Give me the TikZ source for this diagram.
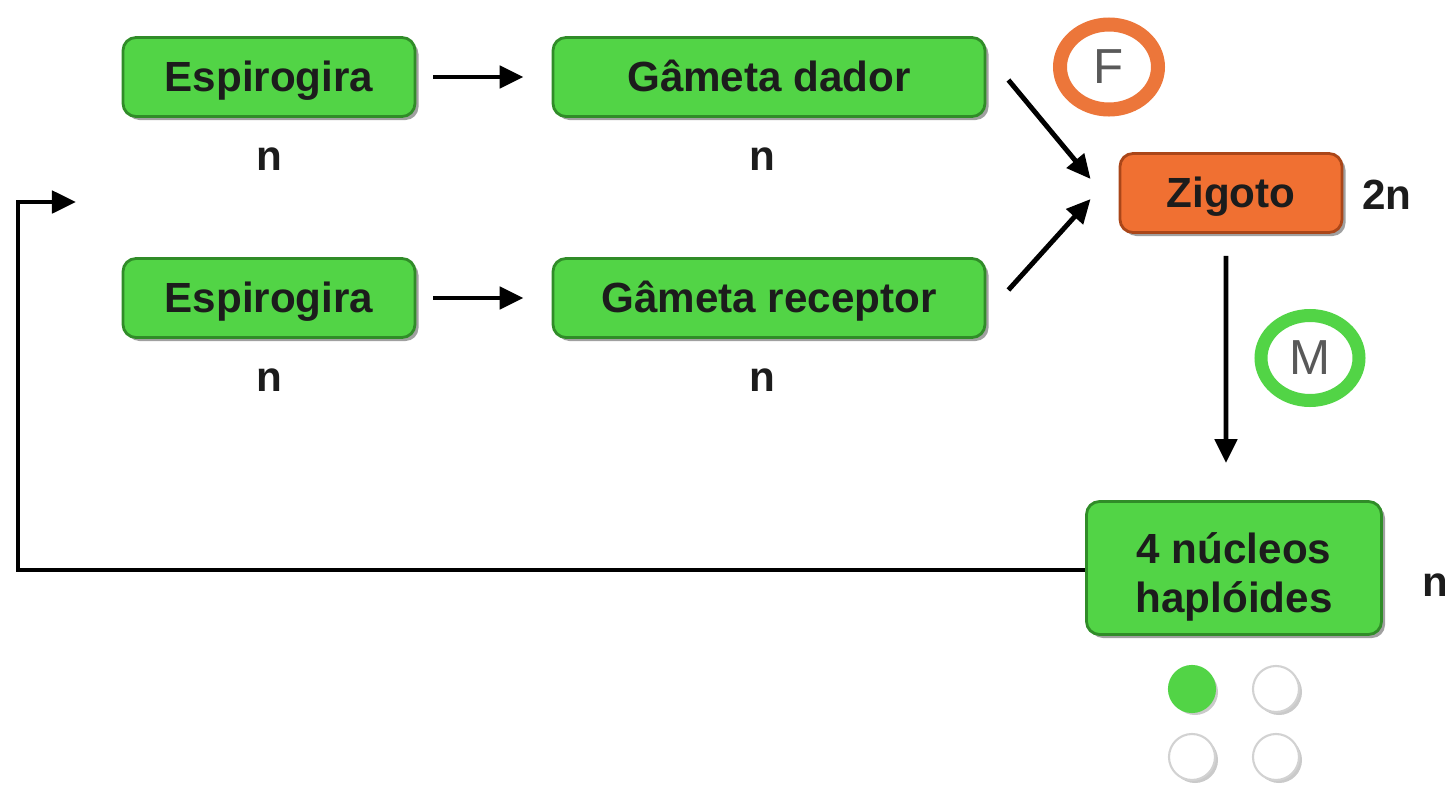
\documentclass[tikz,border=0pt]{standalone}
\usepackage{fontspec}
\setmainfont{Liberation Sans}
\usetikzlibrary{shapes, arrows.meta, shadows, calc, positioning}
\definecolor{algagreen}{RGB}{82,212,70}
\definecolor{algaedge}{RGB}{48,140,40}
\definecolor{zigorange}{RGB}{240,112,50}
\definecolor{zigedge}{RGB}{170,70,25}
\definecolor{ringorange}{RGB}{236,118,58}
\definecolor{inktext}{RGB}{28,28,28}
\tikzset{stagebox/.style={draw=algaedge, fill=algagreen, rounded corners=0.13cm, line width=0.8pt,
    text=inktext, font=\fontsize{12}{14}\selectfont\bfseries, align=center,
    drop shadow={shadow xshift=0.035cm, shadow yshift=-0.035cm, opacity=0.75}}}
\tikzset{oneline/.style={text height=1.0em, text depth=0.2em, minimum height=0.79cm}}
\tikzset{ploidy/.style={text=inktext, font=\fontsize{12}{14}\selectfont\bfseries}}
\tikzset{flow/.style={line width=1.4pt, -{Triangle[length=0.24cm, width=0.22cm]}}}
\tikzset{ring/.style={ellipse, line width=0.13cm, minimum width=0.98cm, minimum height=0.85cm, fill=white,
    text=black!65, font=\fontsize{14}{16}\selectfont}}
\tikzset{nucleus/.style={circle, minimum size=0.46cm, inner sep=0pt, draw=gray!35, line width=0.6pt,
    drop shadow={shadow xshift=0.03cm, shadow yshift=-0.03cm, fill=gray!70, opacity=0.6}}}

\begin{document}
\begin{tikzpicture}
\useasboundingbox (0,0) rectangle (14.45,7.84);

\node[stagebox, oneline, minimum width=2.92cm] (E1) at (2.69, 7.07) {Espirogira};
\node[stagebox, oneline, minimum width=4.32cm] (G1) at (7.69, 7.07) {Gâmeta dador};
\node[stagebox, oneline, minimum width=2.92cm] (E2) at (2.69, 4.86) {Espirogira};
\node[stagebox, oneline, minimum width=4.32cm] (G2) at (7.69, 4.86) {Gâmeta receptor};
\node[stagebox, oneline, fill=zigorange, draw=zigedge, minimum width=2.22cm] (Z) at (12.31, 5.91) {Zigoto};
\node[stagebox, minimum width=2.95cm, minimum height=1.33cm] (H) at (12.34, 2.16) {\rule{0pt}{14pt}4 núcleos\\haplóides};

\node[ploidy, below = 0.17 of E1] (nE1) {n};
\node[ploidy, below = 0.17 of G1, xshift=-0.07cm] (nG1) {n};
\node[ploidy, below = 0.17 of E2] (nE2) {n};
\node[ploidy, below = 0.17 of G2, xshift=-0.07cm] (nG2) {n};
\node[ploidy] (nZ) at (13.87, 5.89) {2n};
\node[ploidy] (nH) at (14.35, 1.99) {n};

\node[ring, draw=ringorange, line width=0.14cm] (F) at (11.09, 7.17) {F};
\node[ring, draw=algagreen] (M) at (13.10, 4.26) {M};

\node[nucleus, fill=algagreen, draw=algagreen] (D1) at (11.92, 0.95) {};
\node[nucleus, fill=white] (D2) at (12.76, 0.95) {};
\node[nucleus, fill=white] (D3) at (11.92, 0.27) {};
\node[nucleus, fill=white] (D4) at (12.76, 0.27) {};

\draw[flow, shorten <=0.17cm, shorten >=0.28cm] (E1) -- (G1);
\draw[flow, shorten <=0.17cm, shorten >=0.28cm] (E2) -- (G2);

\coordinate (Gin) at ($(G1.east)+(0.22,-0.03)$);
\coordinate (Rin) at ($(G2.east)+(0.22,0.08)$);
\coordinate (Zup) at ($(Z.west)+(-0.28,0.14)$);
\coordinate (Zlo) at ($(Z.west)+(-0.28,-0.06)$);
\draw[flow] (Gin) -- (Zup);
\draw[flow] (Rin) -- (Zlo);

\draw[flow, shorten <=0.22cm, shorten >=0.37cm] ($(Z.south)+(-0.05,0)$) -- ($(H.north)+(-0.08,0)$);

% back to the start of the cycle
\coordinate (corner) at (0.18, 5.82);
\coordinate (back) at (0.76, 5.82);
\draw[flow] ($(H.west)+(0,-0.02)$) -| (corner) -- (back);

\end{tikzpicture}
\end{document}
